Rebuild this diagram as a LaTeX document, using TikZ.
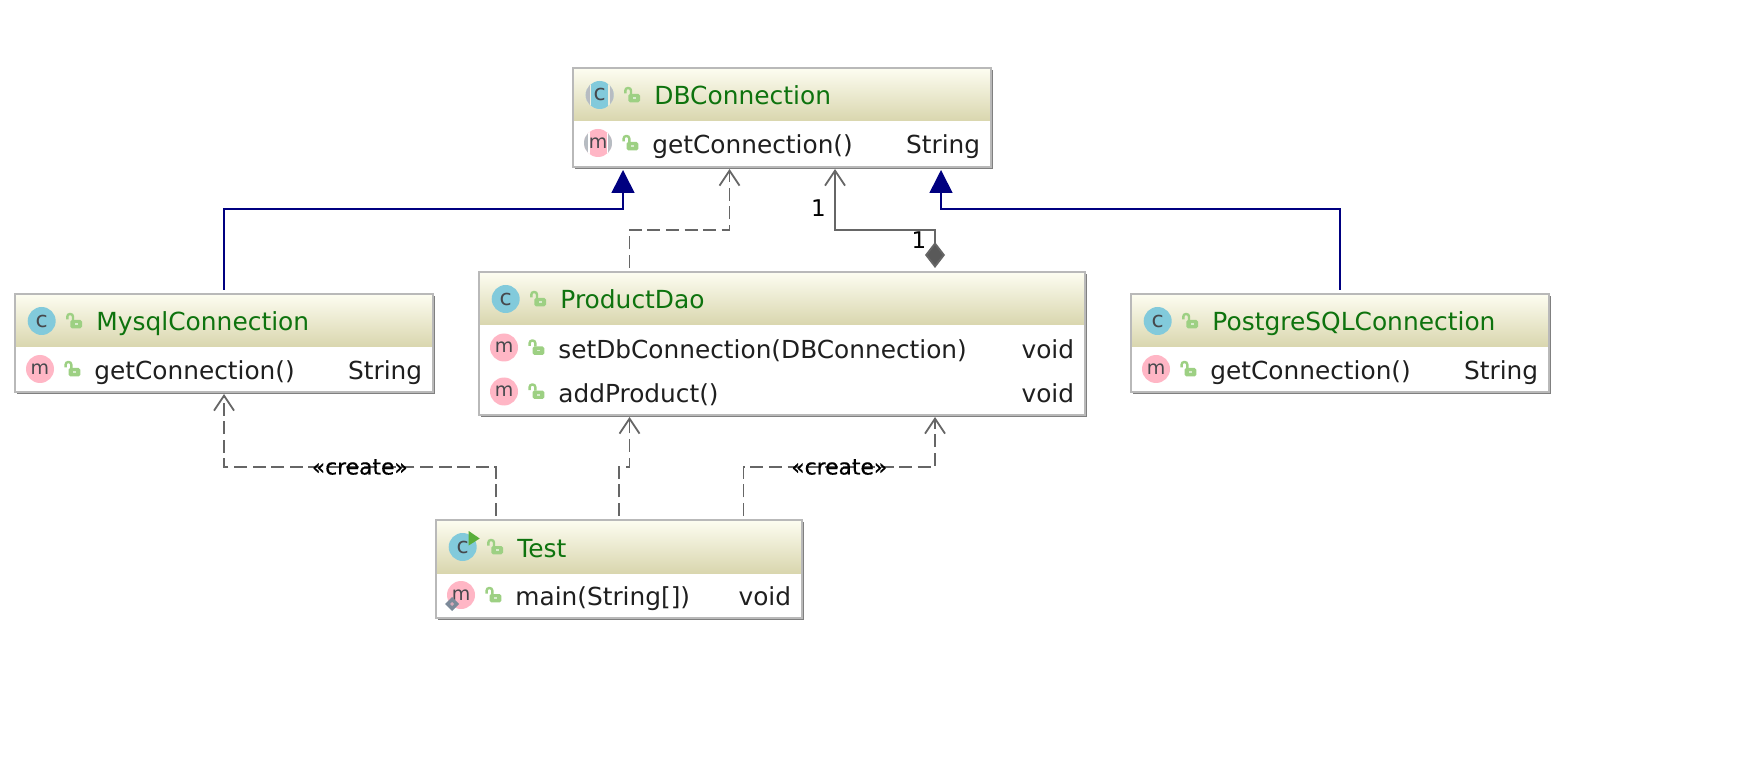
\documentclass[tikz,border=0pt]{standalone}
\usepackage{fontspec}
\setmainfont{DejaVu Sans}
\newfontfamily\stereofont[FakeBold=0.5]{DejaVu Sans}
\usetikzlibrary{shapes,arrows,positioning,shadows,calc,arrows.meta}

\definecolor{boxgray}{HTML}{B9B9B9}
\definecolor{shadowgray}{HTML}{808080}
\definecolor{headtop}{HTML}{FDFDF1}
\definecolor{headbot}{HTML}{D9D6AE}
\definecolor{titlegreen}{HTML}{0E730E}
\definecolor{lockgreen}{HTML}{9DD083}
\definecolor{iconblue}{HTML}{82CADB}
\definecolor{iconpink}{HTML}{FFB6C5}
\definecolor{icontext}{HTML}{46484C}
\definecolor{ringgray}{HTML}{B7BCC2}
\definecolor{depgray}{HTML}{666666}
\definecolor{diamondgray}{HTML}{595959}
\definecolor{runcolor}{HTML}{59AE3A}
\definecolor{staticgray}{HTML}{7C8A99}
\colorlet{navy}{blue!50!black}

\tikzset{
	classbox/.style={draw=boxgray, line width=.8pt, fill=white, anchor=north west, inner sep=0pt, outer sep=0pt,
		drop shadow={shadow xshift=1.2pt, shadow yshift=-1.2pt, opacity=1, fill=shadowgray}},
	boxline/.style={draw=boxgray, line width=.8pt},
	cicon/.style={circle, fill=iconblue, text=icontext, inner sep=0pt, minimum size=14pt, font=\fontsize{11}{11}\selectfont},
	micon/.style={circle, fill=iconpink, text=icontext, inner sep=0pt, minimum size=14pt, font=\fontsize{9.5}{10}\selectfont},
	titletext/.style={anchor=base west, inner sep=0pt, text=titlegreen, font=\fontsize{12.45}{14}\selectfont},
	membertext/.style={anchor=base west, inner sep=0pt, text=black!88, font=\fontsize{12.4}{14}\selectfont},
	typetext/.style={anchor=base east, inner sep=0pt, text=black!88, font=\fontsize{12.4}{14}\selectfont},
	countlabel/.style={inner sep=0pt, font=\fontsize{11.5}{13}\selectfont},
	stereolabel/.style={inner sep=0pt, font=\stereofont\fontsize{10.9}{12}\selectfont},
	extendsline/.style={draw=navy, line width=.8pt, shorten <=2pt, shorten >=1.5pt,
		-{Triangle[length=11.5pt, width=11.5pt, fill=navy]}},
	depline/.style={draw=depgray, line width=.9pt, dash pattern=on 6.5pt off 2.8pt, shorten <=2pt, shorten >=1pt,
		-{Straight Barb[length=7.5pt, width=10pt]}},
	assocline/.style={draw=depgray, line width=.9pt, shorten <=2pt, shorten >=1pt,
		{Diamond[length=13pt, width=10pt, fill=diamondgray]}-{Straight Barb[length=7.5pt, width=10pt]}},
	lockicon/.pic={
		\draw[lockgreen, line width=1.2pt, rounded corners=1.3pt] (-6.7,-1.5) -- (-6.7,-7) -- (-1,-7) -- (-1,-1);
		\fill[lockgreen, rounded corners=.8pt] (-3.7,-1) rectangle (8,7.3);
		\fill[white!60!lockgreen] (.7,2.2) rectangle (4,4);
	}
}

% box with its header, class icon, lock and title
\newcommand{\classbox}[6]{
	\node[classbox, minimum width=#4*.5pt, minimum height=#5*.5pt] (#1) at (#2,#3) {};
	\shade[top color=headtop, bottom color=headbot] (#1.north west) rectangle ($(#1.north east)+(0,53)$);
	\draw[boxline] (#1.north west) rectangle (#1.south east);
	\node[cicon] (#1icon) at ($(#1.north west)+(26.7,27)$) {c};
	\pic at ($(#1.north west)+(59,27)$) {lockicon};
	\node[titletext] (#1title) at ($(#1.north west)+(81,37)$) {#6};
}
% one method row: box, row number, y inside the box, name, type
\newcommand{\methodrow}[5]{
	\node[micon] (#1m#2) at ($(#1.north west)+(25,#3)$) {m};
	\pic at ($(#1.north west)+(57.3,#3)$) {lockicon};
	\node[membertext] (#1name#2) at ($(#1.north west)+(79,#3+10.5)$) {#4};
	\node[typetext] (#1type#2) at ($(#1.north east)+(-10.5,#3+10.5)$) {#5};
}
% grey side bars of an abstract icon
\newcommand{\abstractbars}[2]{
	\begin{scope}
		\clip (#1) circle (7pt);
		\fill[#2] ($(#1)+(-15,-15)$) rectangle ($(#1)+(-8.5,15)$);
		\fill[#2] ($(#1)+(8.5,-15)$) rectangle ($(#1)+(15,15)$);
		\fill[ringgray] ($(#1)+(-15,-15)$) rectangle ($(#1)+(-10,15)$);
		\fill[ringgray] ($(#1)+(10,-15)$) rectangle ($(#1)+(15,15)$);
	\end{scope}
}

\begin{document}
\begin{tikzpicture}[x=.5pt, y=-.5pt]
	\useasboundingbox (0,0) rectangle (1744,780);

	\classbox{db}{573}{68}{418}{99}{DBConnection}
	\methodrow{db}{1}{75}{getConnection()}{String}
	\abstractbars{dbicon}{headbot!40}
	\abstractbars{dbm1}{white}

	\classbox{mysql}{15}{294}{418}{98}{MysqlConnection}
	\methodrow{mysql}{1}{75}{getConnection()}{String}

	\classbox{dao}{479}{272}{606}{143}{ProductDao}
	\methodrow{dao}{1}{75.5}{setDbConnection(DBConnection)}{void}
	\methodrow{dao}{2}{119.5}{addProduct()}{void}

	\classbox{pgsql}{1131}{294}{418}{98}{PostgreSQLConnection}
	\methodrow{pgsql}{1}{75}{getConnection()}{String}

	\classbox{test}{436}{520}{366}{98}{Test}
	\methodrow{test}{1}{75}{main(String[])}{void}
	\fill[runcolor] ($(testicon)+(6,-16)$) -- ($(testicon)+(17,-8.5)$) -- ($(testicon)+(6,-1.5)$) -- cycle;
	\fill[staticgray] ($(testm1)+(-9,2)$) -- ($(testm1)+(-2,9)$) -- ($(testm1)+(-9,16)$) -- ($(testm1)+(-16,9)$) -- cycle;
	\fill[iconpink!70!staticgray] ($(testm1)+(-9,7)$) -- ($(testm1)+(-7,9)$) -- ($(testm1)+(-9,11)$) -- ($(testm1)+(-11,9)$) -- cycle;

	\coordinate (dbp1) at ($(db.south west)+(50,0)$);
	\coordinate (dbp2) at ($(db.south west)+(156.5,0)$);
	\coordinate (dbp3) at ($(db.south west)+(262,0)$);
	\coordinate (dbp4) at ($(db.south west)+(368,0)$);
	\coordinate (daotop1) at ($(dao.north west)+(150.5,0)$);
	\coordinate (daotop2) at ($(dao.north west)+(456,0)$);
	\coordinate (daobot1) at ($(dao.south west)+(150.5,0)$);
	\coordinate (daobot2) at ($(dao.south west)+(456,0)$);
	\coordinate (testp1) at ($(test.north west)+(59.6,0)$);
	\coordinate (testp2) at ($(test.north west)+(183.2,0)$);
	\coordinate (testp3) at ($(test.north west)+(307.5,0)$);

	\draw[extendsline] (mysql.north) |- ($(dbp1)+(0,42)$) -- (dbp1);
	\draw[extendsline] (pgsql.north) |- ($(dbp4)+(0,42)$) -- (dbp4);
	\draw[depline] (daotop1) -- ++(0,-42) -| (dbp2);
	\draw[assocline] (daotop2) -- ++(0,-42) -| (dbp3);
	\node[countlabel] (dbcount) at (818.5,208) {1};
	\node[countlabel] (daocount) at (919,240) {1};
	\draw[depline] (testp1) -- ++(0,-53) -| node[pos=.25, stereolabel] (createa) {«create»} (mysql.south);
	\draw[depline] (testp2) -- ++(0,-53) -| (daobot1);
	\draw[depline] (testp3) -- ++(0,-53) -| node[pos=.25, stereolabel] (createb) {«create»} (daobot2);
\end{tikzpicture}
\end{document}
